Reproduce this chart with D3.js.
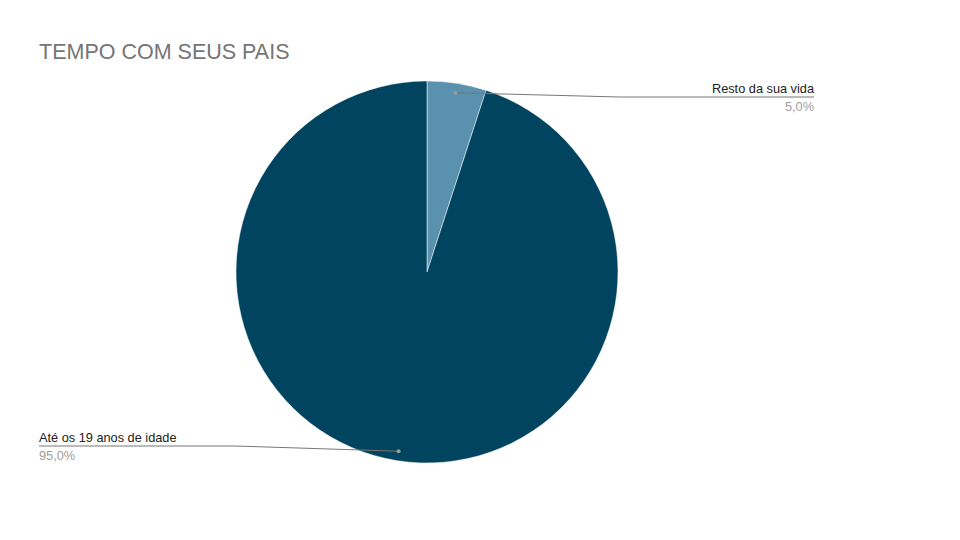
<!DOCTYPE html>
<html><head><meta charset="utf-8">
<script src="https://cdn.jsdelivr.net/npm/d3@7/dist/d3.min.js"></script>
<style>body{margin:0;background:#fff}svg{display:block}</style>
</head><body><svg id="c" width="960" height="540"></svg>
<script>
const title = "TEMPO COM SEUS PAIS";
const categories = ["Resto da sua vida", "Até os 19 anos de idade"];
const values = [5.0, 95.0];
const colors = ["#5a91ae", "#01445f"];

const svg = d3.select("#c");
const W = 960, H = 540;
svg.append("rect").attr("width", W).attr("height", H).attr("fill", "#fff");
svg.append("text").attr("x", 39).attr("y", 59).text(title)
  .attr("font-family", "Liberation Sans, Arial, sans-serif").attr("font-size", 21.5).attr("fill", "#757575");

const cx = 427, cy = 272, R = 191;
const data = categories.map((c, i) => ({cat: c, value: values[i], color: colors[i]}));
const pie = d3.pie().value(d => d.value).sort(null);
const arcs = pie(data);
const arc = d3.arc().innerRadius(0).outerRadius(R);
const g = svg.append("g").attr("transform", `translate(${cx},${cy})`);
g.selectAll("path").data(arcs).join("path")
  .attr("d", arc).attr("fill", d => d.data.color)
  .attr("stroke", "#fff").attr("stroke-width", 0.5);

const labelArc = d3.arc().innerRadius(R * 0.95).outerRadius(R * 0.95);
const fmt = v => d3.format(".1f")(v).replace(".", ",") + "%";
const layout = [
  {bendX: 620, lineY: 97, endX: 814, anchor: "end"},
  {bendX: 235, lineY: 446, endX: 39, anchor: "start"}
];
arcs.forEach((a, i) => {
  const [px, py] = labelArc.centroid(a);
  const x0 = cx + px, y0 = cy + py;
  const L = layout[i];
  svg.append("path")
    .attr("d", `M${x0},${y0}L${L.bendX},${L.lineY}L${L.endX},${L.lineY}`)
    .attr("fill", "none").attr("stroke", "#777").attr("stroke-width", 1);
  svg.append("circle").attr("cx", x0).attr("cy", y0).attr("r", 2).attr("fill", "#999");
  svg.append("text").attr("x", L.endX).attr("y", L.lineY - 4)
    .attr("text-anchor", L.anchor).text(a.data.cat)
    .attr("font-family", "Liberation Sans, Arial, sans-serif").attr("font-size", 12.75).attr("fill", "#222");
  svg.append("text").attr("x", L.endX).attr("y", L.lineY + 14)
    .attr("text-anchor", L.anchor).text(fmt(a.data.value))
    .attr("font-family", "Liberation Sans, Arial, sans-serif").attr("font-size", 12.75).attr("fill", "#9e9e9e");
});
</script></body></html>
